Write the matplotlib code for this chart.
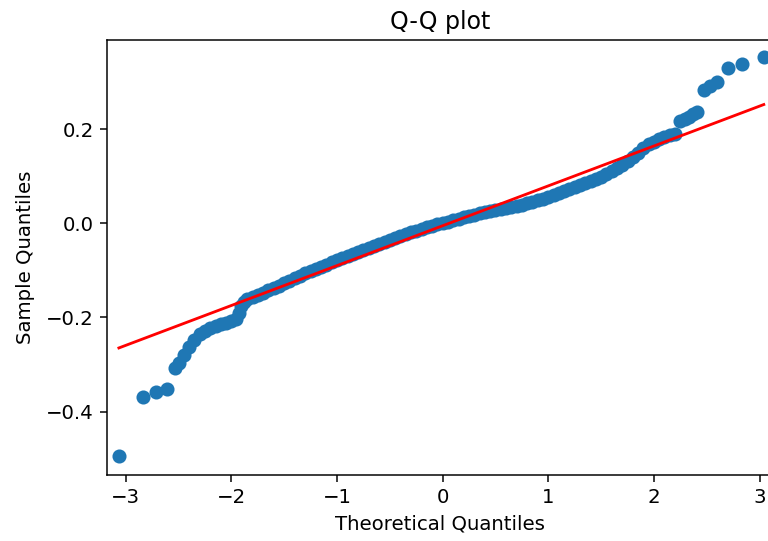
import matplotlib
matplotlib.use("Agg")
import matplotlib.pyplot as plt
import numpy as np

# Theoretical quantiles (x) and sample quantiles (y)
lower_tail_x = [-3.065, -2.84, -2.71, -2.61]
lower_tail_y = [-0.4935, -0.370, -0.3575, -0.3525]

band_x = [-2.535, -2.50, -2.45, -2.40, -2.35, -2.30, -2.25, -2.20, -2.15, -2.10,
          -2.05, -2.00, -1.96, -1.93, -1.91, -1.88, -1.85, -1.80, -1.75, -1.70,
          -1.65, -1.60, -1.55, -1.50, -1.45, -1.40, -1.35, -1.30, -1.25, -1.20,
          -1.15, -1.10, -1.05, -1.00, -0.95, -0.90, -0.85, -0.80, -0.75, -0.70,
          -0.65, -0.60, -0.55, -0.50, -0.45, -0.40, -0.35, -0.30, -0.25, -0.20,
          -0.15, -0.10, -0.05, 0.00, 0.05, 0.10, 0.15, 0.20, 0.25, 0.30,
          0.35, 0.40, 0.45, 0.50, 0.55, 0.60, 0.65, 0.70, 0.75, 0.80,
          0.85, 0.90, 0.95, 1.00, 1.05, 1.10, 1.15, 1.20, 1.25, 1.30,
          1.35, 1.40, 1.45, 1.50, 1.55, 1.60, 1.65, 1.70, 1.75, 1.80,
          1.85, 1.90, 1.95, 2.00, 2.05, 2.10, 2.15, 2.20]
band_y = [-0.308, -0.296, -0.280, -0.264, -0.248, -0.236, -0.228, -0.223, -0.219, -0.215,
          -0.212, -0.208, -0.203, -0.190, -0.177, -0.167, -0.161, -0.156, -0.152, -0.148,
          -0.143, -0.138, -0.133, -0.128, -0.123, -0.117, -0.112, -0.107, -0.102, -0.097,
          -0.093, -0.088, -0.083, -0.079, -0.074, -0.070, -0.065, -0.061, -0.057, -0.052,
          -0.048, -0.044, -0.040, -0.036, -0.032, -0.028, -0.024, -0.020, -0.017, -0.013,
          -0.009, -0.006, -0.003, 0.000, 0.003, 0.006, 0.009, 0.012, 0.015, 0.018,
          0.021, 0.023, 0.025, 0.027, 0.029, 0.031, 0.034, 0.036, 0.039, 0.042,
          0.045, 0.048, 0.052, 0.056, 0.060, 0.064, 0.068, 0.072, 0.076, 0.081,
          0.086, 0.090, 0.094, 0.098, 0.104, 0.110, 0.117, 0.124, 0.131, 0.140,
          0.149, 0.160, 0.168, 0.173, 0.178, 0.182, 0.186, 0.190]

upper_tail_x = [2.25, 2.29, 2.33, 2.37, 2.41, 2.47, 2.53, 2.60, 2.70, 2.83, 3.04]
upper_tail_y = [0.216, 0.221, 0.226, 0.231, 0.235, 0.283, 0.2915, 0.2985, 0.329, 0.338, 0.3525]

# Reference line (standardized line) parameters
line_slope = 0.0846
line_intercept = -0.0057

title = "Q-Q plot"
xlabel = "Theoretical Quantiles"
ylabel = "Sample Quantiles"

x = np.array(lower_tail_x + band_x + upper_tail_x)
y = np.array(lower_tail_y + band_y + upper_tail_y)

plt.rcParams["font.size"] = 10.5
plt.rcParams["axes.titlesize"] = 12.6

dpi = 135
fig = plt.figure(figsize=(768.3 / dpi, 541.3 / dpi), dpi=dpi)
ax = fig.add_axes([106.7 / 768, 1 - 475 / 541, (773 - 106.7) / 768, (475 - 40) / 541])

ax.plot(x, y, linestyle="none", marker="o", markerfacecolor="C0",
        markeredgecolor="C0", markersize=6.5)
line_x = np.array([x.min(), x.max()])
ax.plot(line_x, line_slope * line_x + line_intercept, "r-", linewidth=1.5)

ax.set_xlim(-3.18, 3.13)
ax.set_ylim(-0.5345, 0.389)
ax.set_xticks([-3, -2, -1, 0, 1, 2, 3])
ax.set_yticks([-0.4, -0.2, 0.0, 0.2])
ax.set_title(title)
ax.set_xlabel(xlabel)
ax.set_ylabel(ylabel, labelpad=6)

fig.savefig("out.png", dpi=dpi)
